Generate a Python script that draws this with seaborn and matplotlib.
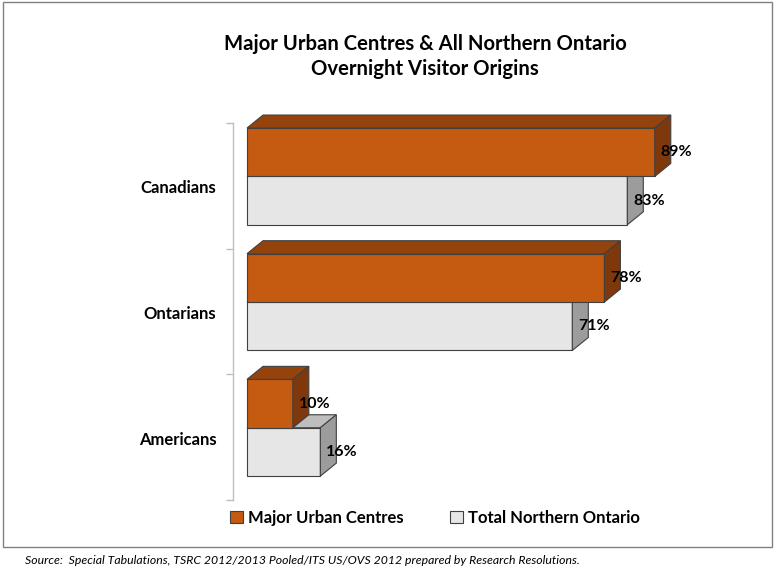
import numpy as np
import pandas as pd
import matplotlib
matplotlib.use("Agg")
import matplotlib.pyplot as plt
import matplotlib.transforms as mtransforms
from matplotlib.patches import Polygon, Patch, Rectangle
import seaborn as sns

# ---- data ----
categories = ["Canadians", "Ontarians", "Americans"]
series_names = ["Major Urban Centres", "Total Northern Ontario"]
major_urban = [89, 78, 10]
total_north = [83, 71, 16]
title_lines = ["Major Urban Centres & All Northern Ontario", "Overnight Visitor Origins"]
source_text = "Source:  Special Tabulations, TSRC 2012/2013 Pooled/ITS US/OVS 2012 prepared by Research Resolutions."

df = pd.DataFrame({
    "Origin": categories * 2,
    "Series": [series_names[0]] * 3 + [series_names[1]] * 3,
    "Value": major_urban + total_north,
})

# ---- style ----
orange = "#C55A11"
orange_top = "#95430D"
orange_side = "#7E380B"
gray = "#E6E6E6"
gray_top = "#BEBEBE"
gray_side = "#9C9C9C"
edge = "#404040"

sns.set_theme(style="white")
plt.rcParams["font.family"] = ["Lato", "DejaVu Sans"]
plt.rcParams["text.color"] = "black"
plt.rcParams["ytick.color"] = "black"
plt.rcParams["ytick.labelcolor"] = "black"

W, H = 775, 567
fig = plt.figure(figsize=(W / 100, H / 100), dpi=100)
ax = fig.add_axes([233 / W, (H - 500) / H, (740 - 233) / W, (500 - 123) / H])

sns.barplot(data=df, x="Value", y="Origin", hue="Series", order=categories,
            hue_order=series_names, palette=[orange, gray], saturation=1,
            width=0.77, orient="h", ax=ax, legend=False,
            edgecolor=edge, linewidth=0.8)

ax.set_xlim(-3.06, 107.6)
ax.set_ylim(2.572, -0.425)

# pixel -> data conversions
p0 = ax.transData.transform((0, 0))
p1 = ax.transData.transform((1, 1))
px_x = abs(p1[0] - p0[0])
px_y = abs(p1[1] - p0[1])
ddx = 16 / px_x
ddy = 13 / px_y
lab_off = 6 / px_x

face_cols = [(orange_top, orange_side), (gray_top, gray_side)]
zbase = [3, 2]
for ci, cont in enumerate(ax.containers):
    top_c, side_c = face_cols[ci]
    for bar in cont:
        bar.set_zorder(zbase[ci])
        x0 = bar.get_x()
        x1 = x0 + bar.get_width()
        y0 = bar.get_y()
        y1 = y0 + bar.get_height()
        top = Polygon([(x0, y0), (x1, y0), (x1 + ddx, y0 - ddy), (x0 + ddx, y0 - ddy)],
                      closed=True, facecolor=top_c, edgecolor=edge, lw=0.8,
                      zorder=zbase[ci] + 0.1, clip_on=False)
        side = Polygon([(x1, y0), (x1, y1), (x1 + ddx, y1 - ddy), (x1 + ddx, y0 - ddy)],
                       closed=True, facecolor=side_c, edgecolor=edge, lw=0.8,
                       zorder=zbase[ci] + 0.1, clip_on=False)
        ax.add_patch(top)
        ax.add_patch(side)
        ax.text(x1 + lab_off, (y0 + y1) / 2, f"{bar.get_width():.0f}%",
                ha="left", va="center", fontsize=11.5, fontweight="bold",
                color="black", zorder=6, clip_on=False)

# axes styling
for s in ["top", "right", "bottom"]:
    ax.spines[s].set_visible(False)
ax.spines["left"].set_color("#BFBFBF")
ax.spines["left"].set_linewidth(1)
ax.set_xticks([])
ax.set_xlabel("")
ax.set_ylabel("")
ax.set_yticks(range(len(categories)))
ax.set_yticklabels(categories, fontsize=12, fontweight="bold", color="black")
ax.set_yticks([k - 0.425 for k in range(len(categories) + 1)], minor=True)
ax.tick_params(axis="y", which="major", length=0, pad=12)
ax.tick_params(axis="y", which="minor", length=5, color="#BFBFBF", width=1, left=True)
offset = mtransforms.ScaledTranslation(0, -0.105, fig.dpi_scale_trans)
for lbl in ax.get_yticklabels():
    lbl.set_transform(lbl.get_transform() + offset)
ax.patch.set_alpha(0)

# title
fig.text(425 / W, 1 - 44 / H, title_lines[0], ha="center", va="center",
         fontsize=14.6, fontweight="bold", color="black")
fig.text(425 / W, 1 - 69 / H, title_lines[1], ha="center", va="center",
         fontsize=14.6, fontweight="bold", color="black")

# legend
handles = [Patch(facecolor=orange, edgecolor=edge, lw=0.8),
           Patch(facecolor=gray, edgecolor=edge, lw=0.8)]
fig.legend(handles, series_names, loc="center", bbox_to_anchor=(435 / W, 1 - 518 / H),
           ncol=2, frameon=False, prop={"weight": "bold", "size": 12},
           handlelength=0.75, handleheight=0.75, handletextpad=0.3, columnspacing=2.8)

# source
fig.text(25 / W, 1 - 561 / H, source_text, ha="left", va="center",
         fontsize=8.8, style="italic", color="black")

# border
fig.add_artist(Rectangle((3 / W, 1 - 547 / H), (772 - 3) / W, (547 - 2) / H,
                         transform=fig.transFigure, fill=False,
                         edgecolor="#808080", lw=1))

fig.savefig("out.png", dpi=100)
